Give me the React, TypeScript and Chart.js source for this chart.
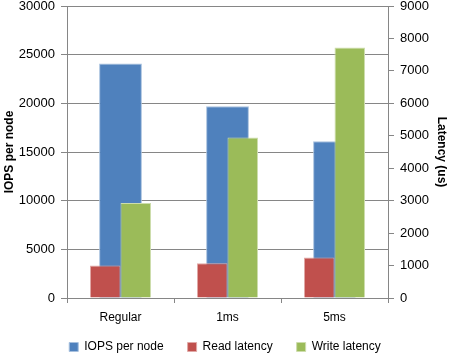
import React, { useEffect, useRef } from "react";
import { Chart, registerables } from "chart.js";

Chart.register(...registerables);

const categories = ["Regular", "1ms", "5ms"];
const iopsPerNode = [24100, 19700, 16100];
const readLatency = [1000, 1070, 1250];
const writeLatency = [2930, 4950, 7720];
const leftTicks = [0, 5000, 10000, 15000, 20000, 25000, 30000];
const rightTicks = [0, 1000, 2000, 3000, 4000, 5000, 6000, 7000, 8000, 9000];

const FONT = "'Liberation Sans', Arial, sans-serif";
const GRID = "#868686";

const legendPlace = {
  id: "legendPlace",
  afterLayout(chart: any) {
    const l = chart.legend;
    if (!l) return;
    const h = l.bottom - l.top;
    l.top = 317;
    l.bottom = 317 + h;
  },
};

export default function App() {
  const ref = useRef<HTMLCanvasElement | null>(null);
  useEffect(() => {
    if (!ref.current) return;
    const chart = new Chart(ref.current, {
      type: "bar",
      data: {
        labels: categories,
        datasets: [
          {
            label: "IOPS per node",
            data: iopsPerNode,
            backgroundColor: "#4F81BD",
            borderColor: "#A7C0DE",
            borderWidth: 1,
            yAxisID: "y",
            order: 1,
            grouped: false,
            categoryPercentage: 0.4,
            barPercentage: 1,
          },
          {
            label: "Read latency",
            data: readLatency,
            backgroundColor: "#C0504D",
            borderColor: "#E0A8A6",
            borderWidth: 1,
            yAxisID: "y1",
            order: 0,
            categoryPercentage: 0.57,
            barPercentage: 1,
          },
          {
            label: "Write latency",
            data: writeLatency,
            backgroundColor: "#9BBB59",
            borderColor: "#CDDDAC",
            borderWidth: 1,
            yAxisID: "y1",
            order: 0,
            categoryPercentage: 0.57,
            barPercentage: 1,
          },
        ],
      },
      plugins: [legendPlace],
      options: {
        animation: false,
        responsive: false,
        maintainAspectRatio: false,
        layout: { padding: { top: 6, right: 0, left: 0, bottom: -15 } },
        plugins: {
          tooltip: { enabled: false },
          legend: {
            position: "bottom",
            labels: {
              font: { family: FONT, size: 12 },
              color: "#000",
              boxWidth: 9,
              boxHeight: 9,
              padding: 24,
              sort: (a: any, b: any) => a.datasetIndex - b.datasetIndex,
            },
          },
        },
        scales: {
          x: {
            type: "category",
            offset: true,
            afterFit: (axis: any) => {
              axis.height = 27;
            },
            grid: {
              display: true,
              drawOnChartArea: false,
              drawTicks: true,
              tickLength: 5,
              color: GRID,
              offset: true,
            },
            border: { display: true, color: GRID },
            ticks: { font: { family: FONT, size: 12 }, color: "#000", padding: 7 },
          },
          y: {
            position: "left",
            min: 0,
            max: 30000,
            afterBuildTicks: (axis: any) => {
              axis.ticks = leftTicks.map((v) => ({ value: v }));
            },
            afterFit: (axis: any) => {
              axis.width = 67;
              axis.paddingTop = 0;
              axis.paddingBottom = 0;
            },
            grid: { color: GRID, tickLength: 6 },
            border: { display: true, color: GRID },
            ticks: {
              font: { family: FONT, size: 13 },
              color: "#000",
              padding: 6,
              callback: (v: any) => String(v),
            },
            title: {
              display: true,
              text: "IOPS per node",
              font: { family: FONT, size: 12, weight: "bold" },
              color: "#000",
              padding: 2,
            },
          },
          y1: {
            position: "right",
            min: 0,
            max: 9000,
            afterBuildTicks: (axis: any) => {
              axis.ticks = rightTicks.map((v) => ({ value: v }));
            },
            afterFit: (axis: any) => {
              axis.width = 62;
              axis.paddingTop = 0;
              axis.paddingBottom = 0;
            },
            grid: { drawOnChartArea: false, color: GRID, tickLength: 6 },
            border: { display: true, color: GRID },
            ticks: {
              font: { family: FONT, size: 13 },
              color: "#000",
              padding: 6,
              callback: (v: any) => String(v),
            },
            title: {
              display: true,
              text: "Latency (us)",
              font: { family: FONT, size: 12, weight: "bold" },
              color: "#000",
              padding: 1,
            },
          },
        },
      },
    });
    return () => chart.destroy();
  }, []);
  return (
    <div style={{ position: "fixed", left: 0, top: 0, width: 450, height: 356, background: "#fff" }}>
      <canvas ref={ref} width={450} height={356} style={{ width: 450, height: 356 }} />
    </div>
  );
}
